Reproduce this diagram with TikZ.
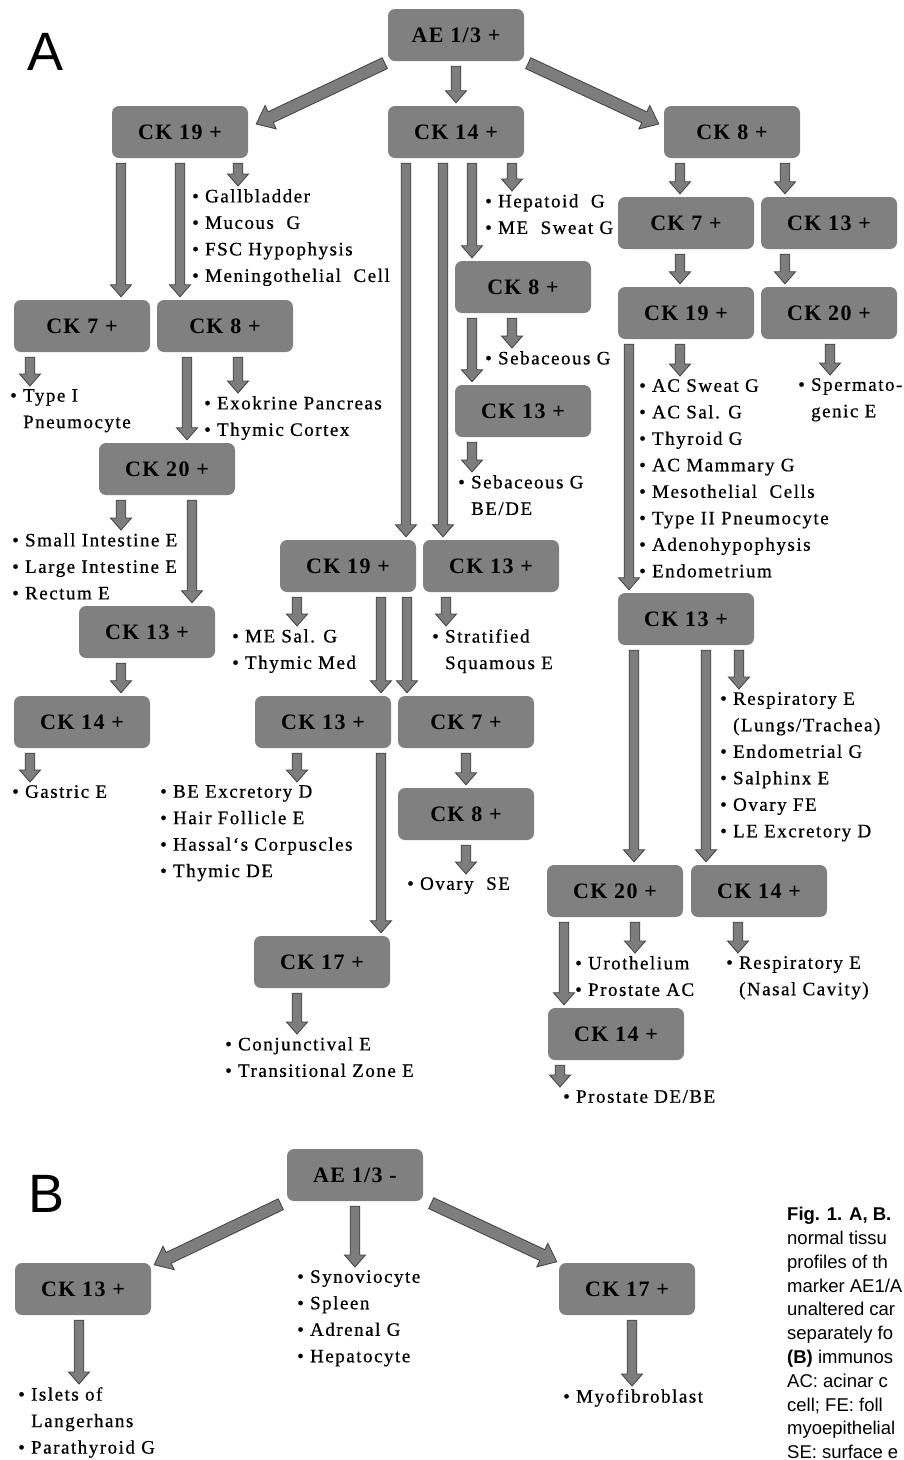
\documentclass[tikz,border=0pt]{standalone}
\usepackage{fontspec}
\setmainfont{Liberation Serif}
\newfontfamily\famscat[LetterSpace=6]{Liberation Serif}
\newfontfamily\famvoce[LetterSpace=8,FakeBold=0.7]{Liberation Serif}
\newfontfamily\famsans{Liberation Sans}
\usepackage{tikz}
\usetikzlibrary{calc}
\definecolor{grigiobox}{RGB}{128,128,128}
\definecolor{grigiofr}{RGB}{125,125,125}
\definecolor{bordofr}{RGB}{64,64,64}
\tikzset{
    scatola/.style={
        rectangle,
        rounded corners=7pt,
        fill=grigiobox,
        minimum width=136pt,
        minimum height=52pt,
        inner sep=0pt,
        font=\famscat\bfseries\fontsize{22}{26}\selectfont
    },
    elenco/.style={
        anchor=north west,
        inner sep=0pt,
        align=left,
        font=\famvoce\fontsize{19}{26.5}\selectfont
    },
    didascalia/.style={
        anchor=north west,
        inner sep=0pt,
        align=left,
        font=\famsans\fontsize{18.5}{23.8}\selectfont
    },
    lettera/.style={font=\famsans\fontsize{54}{54}\selectfont, inner sep=0pt},
    freccia/.style={fill=grigiofr, draw=bordofr, line width=0.8pt}
}
% freccia piena da #1 a #2 (mezza asta, mezza punta, lunghezza punta)
\newcommand{\blk}[5]{%
    \coordinate (bH) at ($(#2)!#5pt!(#1)$);
    \path[freccia] ($(#1)!#3pt!90:(#2)$) -- ($(bH)!#3pt!-90:(#1)$) -- ($(bH)!#4pt!-90:(#1)$) -- (#2)
        -- ($(bH)!#4pt!90:(#1)$) -- ($(bH)!#3pt!90:(#1)$) -- ($(#1)!#3pt!-90:(#2)$) -- cycle;
}
% freccia verticale dal nodo #1 (spostata di #2) al nodo #3
\newcommand{\giu}[3]{%
    \path let \p1=($(#1.south)+(#2,0)$), \p2=(#3.north) in
        (\x1,\y1-5pt) coordinate (gA) (\x1,\y2+3pt) coordinate (gB);
    \blk{gA}{gB}{4.8}{10.5}{12}
}

\begin{document}
\begin{tikzpicture}[x=1pt,y=-1pt]
    \useasboundingbox (0,0) rectangle (904,1460);

    % Pannello A: scatole
    \node[lettera] (lblA) at (46,52) {A};
    \node[scatola] (ae) at (456,35) {AE 1/3 +};
    \node[scatola] (c19a) at (180,132) {CK 19 +};
    \node[scatola] (c14a) at (456,132) {CK 14 +};
    \node[scatola] (c8a) at (732,132) {CK 8 +};
    \node[scatola] (c7r) at (686,223) {CK 7 +};
    \node[scatola] (c13r) at (829,223) {CK 13 +};
    \node[scatola] (c19r) at (686,313) {CK 19 +};
    \node[scatola] (c20r) at (829,313) {CK 20 +};
    \node[scatola] (c8m) at (523,287) {CK 8 +};
    \node[scatola] (c13m) at (523,411) {CK 13 +};
    \node[scatola] (c7l) at (82,326) {CK 7 +};
    \node[scatola] (c8l) at (225,326) {CK 8 +};
    \node[scatola] (c20l) at (167,469) {CK 20 +};
    \node[scatola] (c13l) at (147,632) {CK 13 +};
    \node[scatola] (c14l) at (82,722) {CK 14 +};
    \node[scatola] (c19m) at (348,566) {CK 19 +};
    \node[scatola] (c13mr) at (491,566) {CK 13 +};
    \node[scatola] (c13ml) at (323,722) {CK 13 +};
    \node[scatola] (c7m) at (466,722) {CK 7 +};
    \node[scatola] (c8mm) at (466,814) {CK 8 +};
    \node[scatola] (c13rr) at (686,619) {CK 13 +};
    \node[scatola] (c20rr) at (615,891) {CK 20 +};
    \node[scatola] (c14rr) at (759,891) {CK 14 +};
    \node[scatola] (c14rb) at (616,1034) {CK 14 +};
    \node[scatola] (c17) at (322,962) {CK 17 +};

    % Pannello A: elenchi
    \node[elenco] (lgall) at (192,189) {• Gallbladder\\• Mucous\ \ G\\• FSC Hypophysis\\• Meningothelial\ \ Cell};
    \node[elenco] (ltype1) at (10,389) {• Type I\\\phantom{• }Pneumocyte};
    \node[elenco] (lexo) at (204,396) {• Exokrine Pancreas\\• Thymic Cortex};
    \node[elenco] (lsmall) at (12,533) {• Small Intestine E\\• Large Intestine E\\• Rectum E};
    \node[elenco] (lgastric) at (12,785) {• Gastric E};
    \node[elenco] (lhep) at (485,194) {• Hepatoid\ \ G\\• ME\ \ Sweat G};
    \node[elenco] (lseb) at (485,351) {• Sebaceous G};
    \node[elenco] (lsebbe) at (458,475) {• Sebaceous G\\\phantom{• }BE/DE};
    \node[elenco] (lmesal) at (232,629) {• ME Sal. G\\• Thymic Med};
    \node[elenco] (lstrat) at (432,629) {• Stratified\\\phantom{• }Squamous E};
    \node[elenco] (lbeexc) at (160,785) {• BE Excretory D\\• Hair Follicle E\\• Hassal‘s Corpuscles\\• Thymic DE};
    \node[elenco] (lovary) at (407,877) {• Ovary\ \ SE};
    \node[elenco] (lconj) at (225,1037) {• Conjunctival E\\• Transitional Zone E};
    \node[elenco] (lacsweat) at (639,379) {• AC Sweat G\\• AC Sal. G\\• Thyroid G\\• AC Mammary G\\• Mesothelial\ \ Cells\\• Type II Pneumocyte\\• Adenohypophysis\\• Endometrium};
    \node[elenco] (lsperm) at (798,378) {• Spermato-\\\phantom{• }genic E};
    \node[elenco] (lresp) at (720,692) {• Respiratory E\\\phantom{• }(Lungs/Trachea)\\• Endometrial G\\• Salphinx E\\• Ovary FE\\• LE Excretory D};
    \node[elenco] (luro) at (575,956) {• Urothelium\\• Prostate AC};
    \node[elenco] (lnasal) at (726,956) {• Respiratory E\\\phantom{• }(Nasal Cavity)};
    \node[elenco] (lprost) at (563,1090) {• Prostate DE/BE};

    % Pannello A: frecce diagonali
    \coordinate (d1a) at ([xshift=-3pt,yshift=-2pt]ae.south west);
    \coordinate (d1b) at ([xshift=8pt,yshift=8pt]c19a.east);
    \coordinate (d2a) at ([xshift=4pt,yshift=-2pt]ae.south east);
    \coordinate (d2b) at ([xshift=-5pt,yshift=8pt]c8a.west);
    \blk{d1a}{d1b}{6}{13}{16}
    \blk{d2a}{d2b}{6}{13}{16}

    % Pannello A: frecce verticali
    \giu{ae}{0}{c14a}
    \giu{c19a}{-59}{c7l}
    \giu{c19a}{0}{c8l}
    \giu{c19a}{58}{lgall}
    \giu{c14a}{-50}{c19m}
    \giu{c14a}{-13}{c13mr}
    \giu{c14a}{16}{c8m}
    \giu{c14a}{56}{lhep}
    \giu{c8a}{-52}{c7r}
    \giu{c8a}{53}{c13r}
    \giu{c7r}{-6}{c19r}
    \giu{c13r}{-44}{c20r}
    \giu{c19r}{-57}{c13rr}
    \giu{c19r}{-6}{lacsweat}
    \giu{c20r}{1}{lsperm}
    \giu{c8m}{-51}{c13m}
    \giu{c8m}{-11}{lseb}
    \giu{c13m}{-51}{lsebbe}
    \giu{c7l}{-52}{ltype1}
    \giu{c8l}{-38}{c20l}
    \giu{c8l}{13}{lexo}
    \giu{c20l}{-46}{lsmall}
    \giu{c20l}{25}{c13l}
    \giu{c13l}{-26}{c14l}
    \giu{c14l}{-52}{lgastric}
    \giu{c19m}{-51}{lmesal}
    \giu{c19m}{33}{c13ml}
    \giu{c19m}{59}{c7m}
    \giu{c13mr}{-45}{lstrat}
    \giu{c13ml}{-26}{lbeexc}
    \giu{c13ml}{58}{c17}
    \giu{c7m}{0}{c8mm}
    \giu{c8mm}{0}{lovary}
    \giu{c17}{-25}{lconj}
    \giu{c13rr}{-52}{c20rr}
    \giu{c13rr}{20}{c14rr}
    \giu{c13rr}{53}{lresp}
    \giu{c20rr}{-51}{c14rb}
    \giu{c20rr}{20}{luro}
    \giu{c14rr}{-21}{lnasal}
    \giu{c14rb}{-56}{lprost}

    % Pannello B
    \node[lettera] (lblB) at (47,1194) {B};
    \node[scatola] (aeb) at (355,1175) {AE 1/3 -};
    \node[scatola] (c13b) at (83,1289) {CK 13 +};
    \node[scatola] (c17b) at (627,1289) {CK 17 +};
    \node[elenco] (lsyn) at (297,1270) {• Synoviocyte\\• Spleen\\• Adrenal G\\• Hepatocyte};
    \node[elenco] (lislets) at (18,1387) {• Islets of\\\phantom{• }Langerhans\\• Parathyroid G};
    \node[elenco] (lmyo) at (563,1389) {• Myofibroblast};

    \coordinate (d3a) at ([xshift=-6pt,yshift=-3pt]aeb.south west);
    \coordinate (d3b) at ([xshift=3pt,yshift=-2pt]c13b.north east);
    \coordinate (d4a) at ([xshift=8pt,yshift=-2pt]aeb.south east);
    \coordinate (d4b) at ([xshift=-2pt,yshift=1pt]c17b.north west);
    \blk{d3a}{d3b}{6}{13}{16}
    \blk{d4a}{d4b}{6}{13}{16}
    \giu{aeb}{0}{lsyn}
    \giu{c13b}{-4}{lislets}
    \giu{c17b}{5}{lmyo}

    % Didascalia
    \node[didascalia] (cap) at (787,1207) {\textbf{Fig. 1. A, B.}\\normal tissu\\profiles of th\\marker AE1/A\\unaltered car\\separately fo\\\textbf{(B)} immunos\\AC: acinar c\\cell; FE: foll\\myoepithelial\\SE: surface e};
\end{tikzpicture}
\end{document}
